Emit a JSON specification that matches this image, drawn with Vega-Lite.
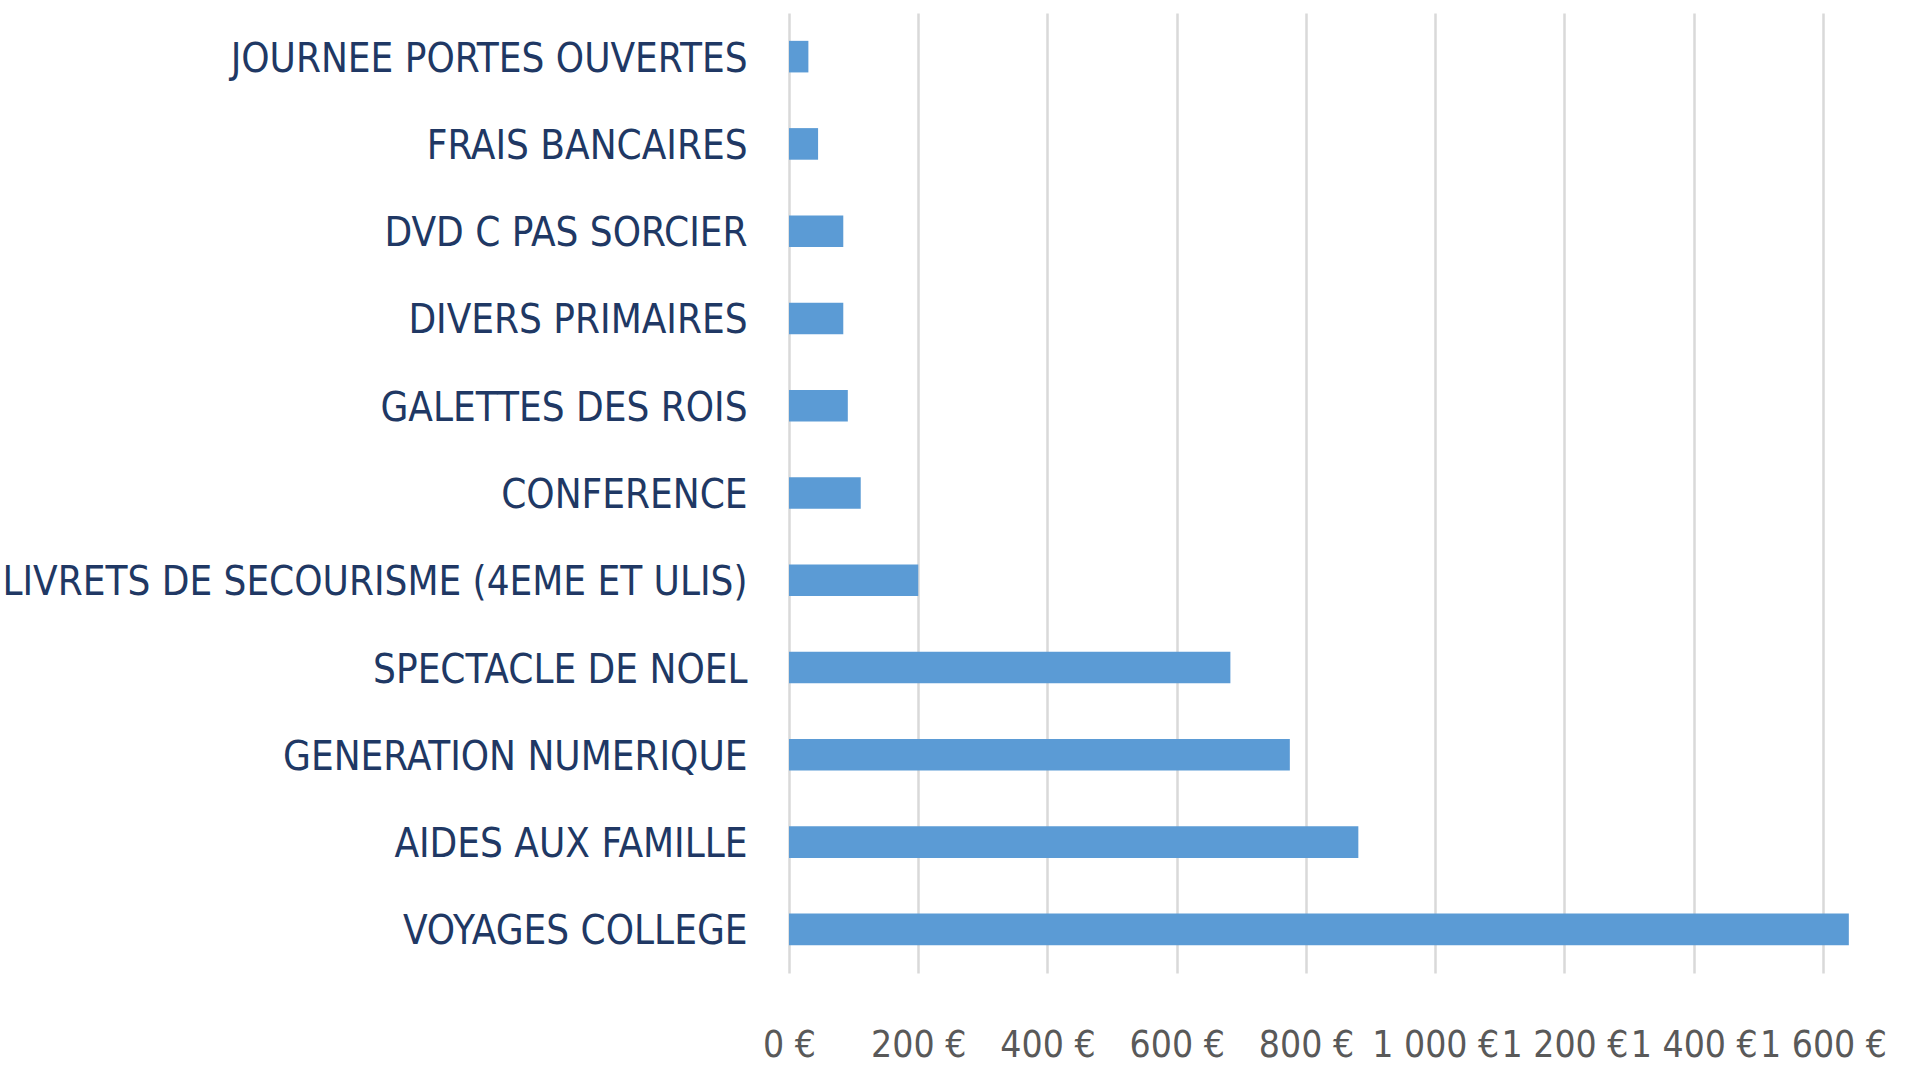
{
  "$schema": "https://vega.github.io/schema/vega-lite/v6.json",
  "autosize": "none",
  "width": 1118,
  "height": 960,
  "padding": {"left": 789, "top": 13, "right": 0, "bottom": 95},
  "background": "white",
  "data": {
    "values": [
      {"categorie": "JOURNEE PORTES OUVERTES", "montant": 30},
      {"categorie": "FRAIS BANCAIRES", "montant": 45},
      {"categorie": "DVD C PAS SORCIER", "montant": 84},
      {"categorie": "DIVERS PRIMAIRES", "montant": 84},
      {"categorie": "GALETTES DES ROIS", "montant": 91},
      {"categorie": "CONFERENCE", "montant": 111},
      {"categorie": "LIVRETS DE SECOURISME (4EME ET ULIS)", "montant": 200},
      {"categorie": "SPECTACLE DE NOEL", "montant": 683},
      {"categorie": "GENERATION NUMERIQUE", "montant": 775},
      {"categorie": "AIDES AUX FAMILLE", "montant": 881},
      {"categorie": "VOYAGES COLLEGE", "montant": 1640}
    ]
  },
  "mark": {"type": "bar", "color": "#5B9BD5"},
  "encoding": {
    "y": {
      "field": "categorie",
      "type": "nominal",
      "sort": null,
      "scale": {"paddingInner": 0.638, "paddingOuter": 0.319},
      "axis": {
        "title": null,
        "domain": false,
        "ticks": false,
        "labelPadding": 42,
        "labelOffset": 3,
        "labelFont": "DejaVu Sans Condensed, sans-serif",
        "labelFontSize": 40,
        "labelBaseline": "middle",
        "labelColor": "#203864",
        "labelLimit": 900
      }
    },
    "x": {
      "field": "montant",
      "type": "quantitative",
      "scale": {"domain": [0, 1730], "nice": false},
      "axis": {
        "title": null,
        "values": [0, 200, 400, 600, 800, 1000, 1200, 1400, 1600],
        "labelExpr": "replace(format(datum.value, ',d'), ',', ' ') + ' €'",
        "labelOverlap": false,
        "labelFlush": false,
        "domain": false,
        "ticks": false,
        "grid": true,
        "gridColor": "#D9D9D9",
        "gridWidth": 2.5,
        "labelBaseline": "middle",
        "labelPadding": 72,
        "labelFont": "DejaVu Sans Condensed, sans-serif",
        "labelFontSize": 37,
        "labelColor": "#595959"
      }
    }
  },
  "config": {"view": {"stroke": null}}
}
